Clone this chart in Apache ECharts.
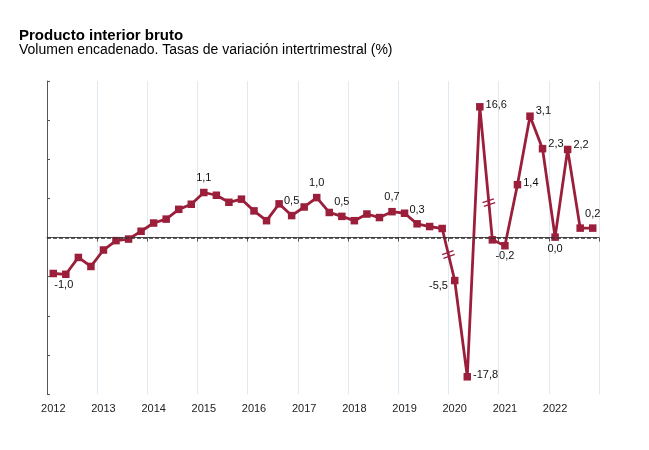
<!DOCTYPE html>
<html>
<head>
<meta charset="utf-8">
<script src="https://cdn.jsdelivr.net/npm/echarts@6/dist/echarts.min.js"></script>
<style>
html,body{margin:0;padding:0;background:#fff;}
#chart{width:649px;height:450px;}
</style>
</head>
<body>
<div id="chart"></div>
<script>
// Years shown on the axis; each has four quarters (T1..T4)
var years = ['2012','2013','2014','2015','2016','2017','2018','2019','2020','2021','2022'];
var quarters = ['T1','T2','T3','T4'];

// Plotted positions on the (broken) vertical axis, one per quarter 2012T1..2022T4
var values = [
  -0.92, -0.94, -0.51, -0.74,
  -0.32, -0.08, -0.04, 0.16,
   0.37, 0.47, 0.72, 0.85,
   1.15, 1.08, 0.90, 0.98,
   0.68, 0.43, 0.86, 0.56,
   0.78, 1.02, 0.64, 0.54,
   0.43, 0.60, 0.51, 0.66,
   0.62, 0.35, 0.28, 0.23,
  -1.10, -3.56, 3.34, -0.06,
  -0.21, 1.35, 3.10, 2.27,
   0.01, 2.25, 0.24, 0.24
];

// Annotated points: quarter index, label text, label placement
var labelIndex = [1, 12, 19, 21, 23, 27, 29, 32, 33, 34, 36, 37, 38, 39, 40, 41, 43];
var labelText  = ['-1,0','1,1','0,5','1,0','0,5','0,7','0,3','-5,5','-17,8','16,6','-0,2','1,4','3,1','2,3','0,0','2,2','0,2'];
var labelPos   = ['bottom','top','top','top','top','top','top','left','right','right','bottom','right','right','right','bottom','right','top'];

// Axis breaks drawn on segments (from quarter index, fraction along segment)
var breakFrom = [31, 34];
var breakFrac = [0.5, 0.72];

var categories = [];
years.forEach(function (y) { quarters.forEach(function (q) { categories.push(y + ' ' + q); }); });

var lineColor = '#9B1E3A';
var labelStyles = {
  top:    { distance: 5, offset: [0, 0] },
  bottom: { distance: 1, offset: [0, 0] },
  right:  { distance: 2, offset: [0, -2] },
  left:   { distance: 3, offset: [0, 5] }
};

var seriesData = values.map(function (v, i) {
  var k = labelIndex.indexOf(i);
  if (k < 0) return { value: v };
  var pos = labelPos[k];
  var st = labelStyles[pos];
  var off = st.offset.slice();
  if (i === 1) off = [-2, 0];
  if (i === 38 || i === 39 || i === 41) off = [0, -5];
  if (i === 40) st = { distance: 3 };
  return {
    value: v,
    label: {
      show: true, position: pos, distance: st.distance, offset: off,
      formatter: labelText[k]
    }
  };
});

var chart = echarts.init(document.getElementById('chart'), null, { renderer: 'canvas' });
var option = {
  animation: false,
  backgroundColor: '#ffffff',
  title: [
    { text: 'Producto interior bruto', left: 14, top: 23,
      textStyle: { fontFamily: 'Liberation Sans, Arial, sans-serif', fontSize: 15, fontWeight: 'bold', color: '#000' } },
    { text: 'Volumen encadenado. Tasas de variación intertrimestral (%)', left: 14, top: 38,
      textStyle: { fontFamily: 'Liberation Sans, Arial, sans-serif', fontSize: 14, fontWeight: 'normal', color: '#000' } }
  ],
  grid: { left: 47, right: 50, top: 81, bottom: 56, containLabel: false },
  xAxis: {
    type: 'category',
    data: categories,
    boundaryGap: true,
    axisLine: { show: true, lineStyle: { color: '#555', width: 1 } },
    axisTick: { show: true, interval: 3, length: 4, lineStyle: { color: '#555' } },
    axisLabel: {
      interval: 3, margin: 9, color: '#222', fontSize: 11,
      fontFamily: 'Liberation Sans, Arial, sans-serif',
      formatter: function (v) { return v.split(' ')[0]; }
    },
    splitLine: { show: true, interval: 3, lineStyle: { color: '#dfe9f1', width: 1 } }
  },
  yAxis: {
    type: 'value', min: -4, max: 4, interval: 1,
    axisLine: { show: true, lineStyle: { color: '#555', width: 1 } },
    axisTick: { show: true, inside: true, length: 3, lineStyle: { color: '#555' } },
    axisLabel: { show: false },
    splitLine: { show: false }
  },
  series: [{
    type: 'line',
    data: seriesData,
    symbol: 'rect',
    symbolSize: 7.5,
    lineStyle: { color: lineColor, width: 2.8 },
    itemStyle: { color: lineColor },
    label: { color: '#111', fontSize: 11, fontFamily: 'Liberation Sans, Arial, sans-serif' },
    markLine: {
      silent: true, symbol: 'none', label: { show: false },
      lineStyle: { color: '#333', type: [4, 2], width: 1.5 },
      data: [{ yAxis: 0 }]
    },
    z: 3
  }]
};
chart.setOption(option);

var g = [];
breakFrom.forEach(function (i, k) {
  var a = chart.convertToPixel({ seriesIndex: 0 }, [i, values[i]]);
  var b = chart.convertToPixel({ seriesIndex: 0 }, [i + 1, values[i + 1]]);
  var t = breakFrac[k];
  var x = a[0] + (b[0] - a[0]) * t;
  var y = a[1] + (b[1] - a[1]) * t;
  g.push({
    type: 'group', x: x, y: y, rotation: 0.33, z: 100,
    children: [
      { type: 'rect', shape: { x: -6, y: -2, width: 12, height: 4 }, style: { fill: '#fff' } },
      { type: 'line', shape: { x1: -6, y1: -2, x2: 6, y2: -2 }, style: { stroke: lineColor, lineWidth: 1.3 } },
      { type: 'line', shape: { x1: -6, y1: 2, x2: 6, y2: 2 }, style: { stroke: lineColor, lineWidth: 1.3 } }
    ]
  });
});
chart.setOption({ graphic: g });
</script>
</body>
</html>
